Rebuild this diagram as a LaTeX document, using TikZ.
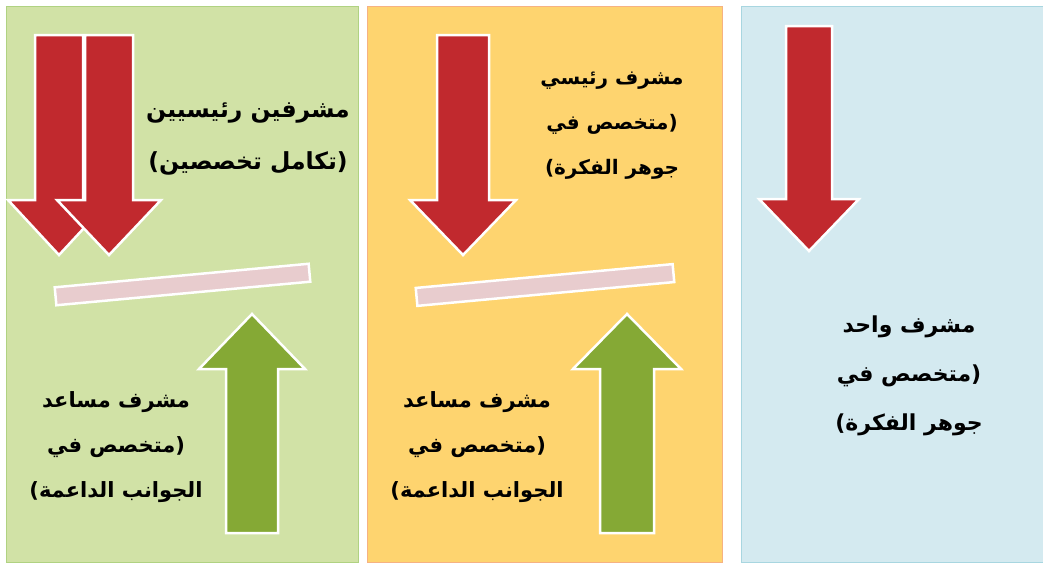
\documentclass[tikz,border=0pt]{standalone}
\usepackage{fontspec}
\TeXXeTstate=1
\newfontfamily\arabicfont[Script=Arabic]{DejaVu Sans}
\newcommand{\arl}[1]{\beginR #1\endR}
\definecolor{pgreen}{RGB}{209,226,166}
\definecolor{pgreenb}{RGB}{176,210,130}
\definecolor{porange}{RGB}{254,212,111}
\definecolor{porangeb}{RGB}{246,178,130}
\definecolor{pblue}{RGB}{212,234,240}
\definecolor{pblueb}{RGB}{168,214,224}
\definecolor{ared}{RGB}{193,41,46}
\definecolor{agreen}{RGB}{133,169,53}
\definecolor{barpink}{RGB}{232,204,206}
\begin{document}
\begin{tikzpicture}[x=1pt,y=-1pt,
  panel/.style={line width=1pt},
  redarrow/.style={fill=ared,draw=white,line width=2.5pt,line join=miter},
  greenarrow/.style={fill=agreen,draw=white,line width=2.5pt,line join=miter},
  bar/.style={rectangle,fill=barpink,draw=white,line width=2.5pt,inner sep=0pt},
  lbl/.style={align=center,inner sep=0pt,text=black,font=\arabicfont\bfseries\fontsize{21}{45}\selectfont}
]
\useasboundingbox (0,0) rectangle (1043,563);
\fill[white] (0,0) rectangle (1043,563);
% panels
\draw[panel,fill=pgreen,draw=pgreenb] (6.5,6.5) rectangle (358,562);
\draw[panel,fill=porange,draw=porangeb] (367.5,6.5) rectangle (722.5,562);
\draw[panel,fill=pblue,draw=pblueb] (741.5,6.5) rectangle (1050,562);

% green panel: two red arrows
\draw[redarrow] (35,35) -- (83,35) -- (83,200) -- (110,200) -- (59,255) -- (8,200) -- (35,200) -- cycle;
\draw[redarrow] (85,35) -- (133,35) -- (133,200) -- (161,200) -- (109,255) -- (57,200) -- (85,200) -- cycle;
\node[bar,rotate=5.3,minimum width=255pt,minimum height=18pt] (barG) at (182.5,284.5) {};
\draw[greenarrow] (252,314) -- (305,369) -- (278,369) -- (278,533) -- (226,533) -- (226,369) -- (199,369) -- cycle;
\node[lbl,font=\arabicfont\bfseries\fontsize{23.5}{52}\selectfont] (tG) at (248,139) {\arl{مشرفين رئيسيين}\\\arl{(تكامل تخصصين)}};
\node[lbl] (bG) at (116,447) {\arl{مشرف مساعد}\\\arl{(متخصص في}\\\arl{الجوانب الداعمة)}};

% orange panel
\draw[redarrow] (437,35) -- (489,35) -- (489,200) -- (516,200) -- (463,255) -- (410,200) -- (437,200) -- cycle;
\node[bar,rotate=5.3,minimum width=258pt,minimum height=18pt] (barO) at (545,285) {};
\draw[greenarrow] (627,314) -- (681,369) -- (654,369) -- (654,533) -- (600,533) -- (600,369) -- (573,369) -- cycle;
\node[lbl,font=\arabicfont\bfseries\fontsize{20}{45}\selectfont] (tO) at (612,126) {\arl{مشرف رئيسي}\\\arl{(متخصص في}\\\arl{جوهر الفكرة)}};
\node[lbl] (bO) at (477,447) {\arl{مشرف مساعد}\\\arl{(متخصص في}\\\arl{الجوانب الداعمة)}};

% blue panel
\draw[redarrow] (786,26) -- (832,26) -- (832,199) -- (859,199) -- (809,251) -- (759,199) -- (786,199) -- cycle;
\node[lbl,font=\arabicfont\bfseries\fontsize{22}{49}\selectfont] (tB) at (909,376) {\arl{مشرف واحد}\\\arl{(متخصص في}\\\arl{جوهر الفكرة)}};
\end{tikzpicture}
\end{document}
